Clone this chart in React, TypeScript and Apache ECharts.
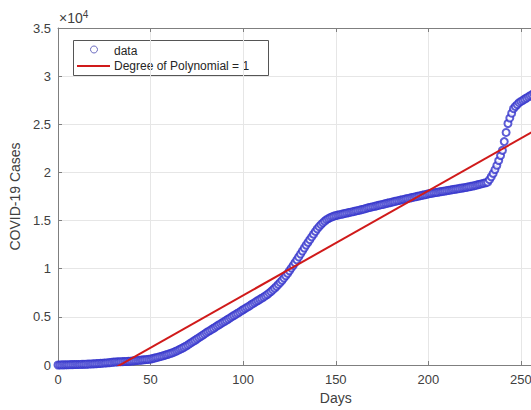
import React, { useEffect, useRef } from "react";
import * as echarts from "echarts";

const DAYS_START = 0;
const CASES: number[] = [
  // d0-d17
  0, 5, 10, 15, 20, 25, 30, 35, 40, 45, 50, 55, 60, 65, 70, 80, 90, 100,
  // d18-d30
  110, 120, 130, 140, 155, 170, 185, 200, 215, 230, 250, 270, 300,
  // d31-d40
  310, 320, 330, 340, 350, 360, 370, 380, 395, 410,
  // d41-d50
  430, 450, 470, 490, 510, 530, 550, 570, 595, 620,
  // d51-d62
  665, 712, 760, 810, 862, 916, 972, 1030, 1090, 1152, 1216, 1282,
  // d63-d72
  1365, 1452, 1544, 1640, 1740, 1845, 1955, 2070, 2190, 2315,
  // d73-d80
  2443, 2571, 2699, 2827, 2955, 3083, 3211, 3339,
  // d81-d112
  3459, 3579, 3699, 3819, 3939, 4059, 4179, 4299, 4419, 4539,
  4659, 4779, 4899, 5019, 5139, 5259, 5379, 5499, 5619, 5739,
  5859, 5979, 6099, 6219, 6339, 6459, 6579, 6699, 6819, 6939,
  7059, 7179,
  // d113-d124
  7319, 7469, 7629, 7799, 7979, 8169, 8369, 8579, 8799, 9029, 9269, 9519,
  // d125-d131
  9790, 10065, 10345, 10630, 10920, 11220, 11530,
  // d132-d136
  11840, 12150, 12450, 12740, 13020,
  // d137-d141
  13300, 13590, 13870, 14130, 14370,
  // d142-d152
  14580, 14770, 14940, 15090, 15210, 15310, 15390, 15460, 15520, 15570, 15610,
  // d153-d167
  15650, 15695, 15740, 15785, 15830, 15870, 15910, 15955, 16000, 16045, 16090, 16135, 16180, 16240, 16300,
  // d168-d185
  16350, 16390, 16440, 16480, 16530, 16580, 16620, 16670, 16710, 16760, 16810, 16850, 16900, 16950, 16990, 17040, 17080, 17130,
  // d186-d202
  17170, 17210, 17260, 17300, 17340, 17380, 17430, 17470, 17510, 17550, 17600, 17640, 17680, 17720, 17770, 17810, 17850,
  // d203-d221
  17880, 17910, 17940, 17980, 18010, 18040, 18070, 18110, 18140, 18170, 18210, 18240, 18270, 18300, 18340, 18370, 18400, 18430, 18470,
  // d222-d232
  18510, 18550, 18590, 18630, 18680, 18730, 18780, 18830, 18880, 18930, 18990,
  // d233-d237
  19250, 19550, 19900, 20300, 20740,
  // d238-d243
  21230, 21750, 22290, 23200, 24150, 25080,
  // d244-d249
  25650, 26150, 26620, 26850, 27050, 27240,
  // d250-d255
  27370, 27490, 27610, 27730, 27850, 27970,
  // d256-d262
  28080, 28190, 28300, 28400, 28500, 28600, 28700,
];

// Linear fit (degree 1): cases = FIT_P1 * day + FIT_P0
const FIT_P1 = 108.7;
const FIT_P0 = -3640;
const FIT_DAYS: number[] = [0, 262];

const X_TICKS = { min: 0, max: 300, interval: 50 };
const Y_TICKS = { min: 0, max: 35000, interval: 5000 };

const X_LABEL = "Days";
const Y_LABEL = "COVID-19 Cases";
const LEGEND_DATA = "data";
const LEGEND_FIT = "Degree of Polynomial = 1";

const FONT = "'Liberation Sans', Arial, Helvetica, sans-serif";

export default function App() {
  const ref = useRef<HTMLDivElement>(null);

  useEffect(() => {
    if (!ref.current) return;
    const chart = echarts.init(ref.current, undefined, { renderer: "svg" });
    const scatterData = CASES.map((v, i) => [DAYS_START + i, v]);
    const fitData = FIT_DAYS.map((d) => [d, FIT_P1 * d + FIT_P0]);

    const axisLineColor = "#7f7f7f";
    const labelColor = "#404040";

    chart.setOption({
      animation: false,
      backgroundColor: "#ffffff",
      textStyle: { fontFamily: FONT },
      grid: { left: 58, top: 28, width: 555.5, bottom: 45, containLabel: false },
      xAxis: [
        {
          type: "value",
          min: X_TICKS.min,
          max: X_TICKS.max,
          interval: X_TICKS.interval,
          name: X_LABEL,
          nameLocation: "middle",
          nameGap: 25,
          nameTextStyle: { fontSize: 14, color: labelColor, fontFamily: FONT },
          axisLine: { show: true, lineStyle: { color: axisLineColor, width: 1 } },
          axisTick: { show: true, inside: true, length: 4, lineStyle: { color: axisLineColor } },
          axisLabel: { fontSize: 13, color: labelColor, margin: 8, fontFamily: FONT },
          splitLine: { show: true, lineStyle: { color: "#e6e6e6", width: 1 } },
        },
        {
          type: "value",
          position: "top",
          min: X_TICKS.min,
          max: X_TICKS.max,
          interval: X_TICKS.interval,
          axisLine: { show: true, lineStyle: { color: axisLineColor, width: 1 } },
          axisTick: { show: true, inside: true, length: 4, lineStyle: { color: axisLineColor } },
          axisLabel: { show: false },
          splitLine: { show: false },
        },
      ],
      yAxis: [
        {
          type: "value",
          min: Y_TICKS.min,
          max: Y_TICKS.max,
          interval: Y_TICKS.interval,
          name: Y_LABEL,
          nameLocation: "middle",
          nameGap: 34,
          nameRotate: 90,
          nameTextStyle: { fontSize: 14, color: labelColor, fontFamily: FONT },
          axisLine: { show: true, lineStyle: { color: axisLineColor, width: 1 } },
          axisTick: { show: true, inside: true, length: 4, lineStyle: { color: axisLineColor } },
          axisLabel: {
            fontSize: 13,
            color: labelColor,
            margin: 7,
            fontFamily: FONT,
            formatter: (v: number) => String(v / 10000),
          },
          splitLine: { show: true, lineStyle: { color: "#e6e6e6", width: 1 } },
        },
      ],
      graphic: [
        {
          type: "text",
          left: 59,
          top: 9,
          style: {
            text: "×10{sup|4}",
            fontSize: 14,
            fill: labelColor,
            fontFamily: FONT,
            rich: { sup: { fontSize: 10, verticalAlign: "top", fill: labelColor, padding: [0, 0, 7, 0] } },
          },
        },
        {
          type: "group",
          z: 100,
          children: [
            {
              type: "rect",
              shape: { x: 73.5, y: 40.5, width: 195, height: 35 },
              style: { fill: "#ffffff", stroke: "#555555", lineWidth: 1 },
            },
            {
              type: "circle",
              shape: { cx: 94, cy: 49.5, r: 3.5 },
              style: { fill: "none", stroke: "#6a6ac0", lineWidth: 1 },
            },
            {
              type: "text",
              x: 114,
              y: 51,
              style: { text: LEGEND_DATA, fontSize: 12, fill: "#262626", fontFamily: FONT, verticalAlign: "middle" },
            },
            {
              type: "line",
              shape: { x1: 77, y1: 66, x2: 110, y2: 66 },
              style: { stroke: "#d01a1a", lineWidth: 2 },
            },
            {
              type: "text",
              x: 114,
              y: 66,
              style: { text: LEGEND_FIT, fontSize: 12, fill: "#262626", fontFamily: FONT, verticalAlign: "middle" },
            },
          ],
        },
      ],
      series: [
        {
          name: LEGEND_DATA,
          type: "scatter",
          data: scatterData,
          symbol: "emptyCircle",
          symbolSize: 7,
          itemStyle: { color: "#3434cc", borderColor: "#3434cc", borderWidth: 1 },
          z: 2,
        },
        {
          name: LEGEND_FIT,
          type: "line",
          data: fitData,
          showSymbol: false,
          symbol: "none",
          clip: true,
          lineStyle: { color: "#d01a1a", width: 2 },
          z: 3,
        },
      ],
    });
    return () => chart.dispose();
  }, []);

  return (
    <div
      style={{
        position: "fixed",
        left: 0,
        top: 0,
        width: 531,
        height: 410,
        overflow: "hidden",
        background: "#fff",
      }}
    >
      <div ref={ref} style={{ width: 640, height: 410 }} />
    </div>
  );
}
